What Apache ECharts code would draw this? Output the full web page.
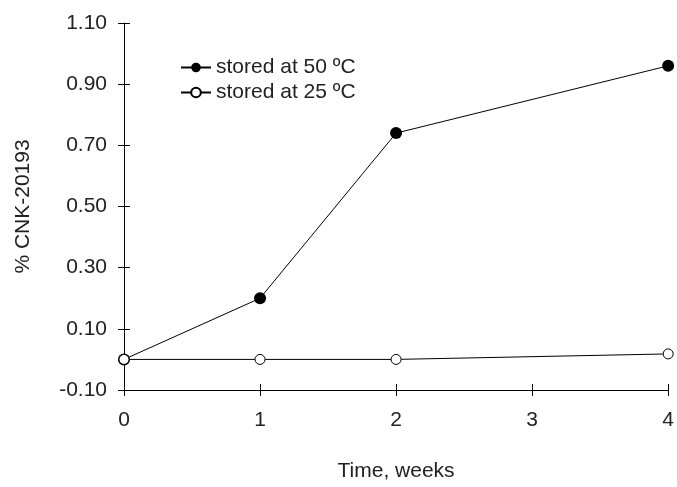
<!DOCTYPE html>
<html><head><meta charset="utf-8">
<script src="https://cdn.jsdelivr.net/npm/echarts@6/dist/echarts.min.js"></script>
<style>html,body{margin:0;padding:0;background:#fff}#c{width:677px;height:487px}</style>
</head><body><div id="c"></div>
<script>
const weeks = [0, 1, 2, 4];
const stored50 = [0.00, 0.20, 0.74, 0.96];
const stored25 = [0.00, 0.00, 0.00, 0.018];
const xTicks = [0, 1, 2, 3, 4];
const yTicks = [-0.10, 0.10, 0.30, 0.50, 0.70, 0.90, 1.10];
const seriesNames = ['stored at 50 ºC', 'stored at 25 ºC'];

const font = 'Liberation Sans, Arial, sans-serif';
const FS = 21;
const chart = echarts.init(document.getElementById('c'));
const ax = {color:'#000', width:1};
function xAx(inside, show){
  return {type:'value', min:0, max:4, interval:1, position:'bottom',
    axisLine:{show:show, lineStyle:ax, onZero:false},
    axisTick:{show:true, inside:inside, length:6, lineStyle:ax},
    axisLabel:{show:show, color:'#222', fontSize:FS, fontFamily:font, margin:20,
      formatter:v=>xTicks.includes(v)?String(v):''},
    splitLine:{show:false},
    name: show ? 'Time, weeks' : '', nameLocation:'middle', nameGap:71,
    nameTextStyle:{color:'#222', fontSize:FS, fontFamily:font}};
}
function yAx(inside, show){
  return {type:'value', min:-0.1, max:1.1, interval:0.2, position:'left',
    axisLine:{show:show, lineStyle:ax, onZero:false},
    axisTick:{show:true, inside:inside, length:6, lineStyle:ax},
    axisLabel:{show:show, color:'#222', fontSize:FS, fontFamily:font, margin:17,
      formatter:v=>v.toFixed(2)},
    splitLine:{show:false},
    name: show ? '% CNK-20193' : '', nameLocation:'middle', nameGap:90, nameRotate:90,
    nameTextStyle:{color:'#222', fontSize:FS, fontFamily:font}};
}
chart.setOption({
  animation:false,
  grid:{left:124, right:8, top:23, bottom:92},
  legend:{left:175, top:52, orient:'vertical', itemGap:4, itemWidth:30, itemHeight:12,
    textStyle:{color:'#222', fontSize:FS, fontFamily:font},
    data:seriesNames},
  xAxis:[xAx(false,true), xAx(true,false)],
  yAxis:[yAx(false,true), yAx(true,false)],
  series:[
    {name:seriesNames[0], type:'line', data:weeks.map((w,i)=>[w, stored50[i]]),
     symbol:'circle', symbolSize:12, itemStyle:{color:'#000'},
     lineStyle:{color:'#000', width:1}},
    {name:seriesNames[1], type:'line', data:weeks.map((w,i)=>[w, stored25[i]]),
     symbol:'circle', symbolSize:10, itemStyle:{color:'#fff', borderColor:'#000', borderWidth:1},
     lineStyle:{color:'#000', width:1}}
  ]
});
</script></body></html>
